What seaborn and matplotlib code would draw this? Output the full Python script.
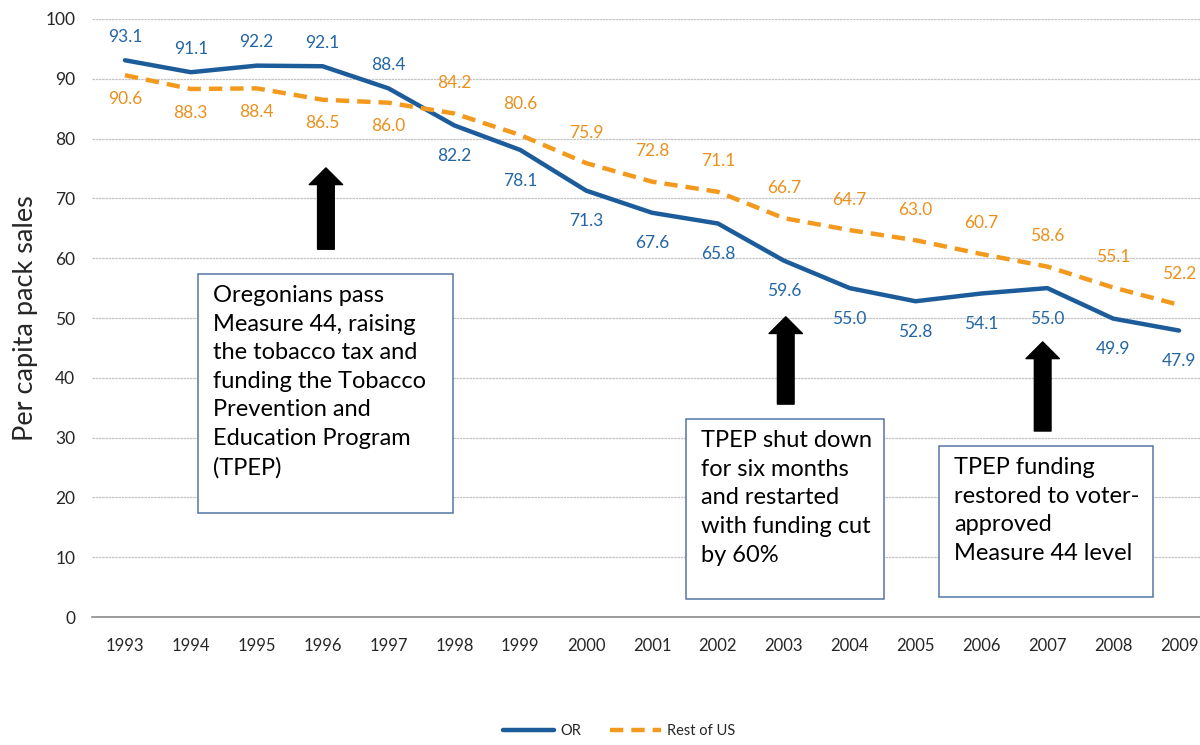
import matplotlib
matplotlib.use("Agg")
import matplotlib.pyplot as plt
from matplotlib.patches import Rectangle
import pandas as pd
import seaborn as sns

# data
years = list(range(1993, 2010))
oregon = [93.1, 91.1, 92.2, 92.1, 88.4, 82.2, 78.1, 71.3, 67.6, 65.8,
          59.6, 55.0, 52.8, 54.1, 55.0, 49.9, 47.9]
rest_us = [90.6, 88.3, 88.4, 86.5, 86.0, 84.2, 80.6, 75.9, 72.8, 71.1,
           66.7, 64.7, 63.0, 60.7, 58.6, 55.1, 52.2]
series_names = ["OR", "Rest of US"]

note_texts = [
    "Oregonians pass\nMeasure 44, raising\nthe tobacco tax and\nfunding the Tobacco\nPrevention and\nEducation Program\n(TPEP)",
    "TPEP shut down\nfor six months\nand restarted\nwith funding cut\nby 60%",
    "TPEP funding\nrestored to voter-\napproved\nMeasure 44 level",
]

sns.set_theme(style="white")
plt.rcParams["font.family"] = ["Lato", "DejaVu Sans"]

blue = "#1D5C9B"
blue_txt = "#2366A6"
orange = "#F39A1E"
orange_txt = "#EB901C"

df = pd.DataFrame({
    "year": years * 2,
    "sales": oregon + rest_us,
    "series": [series_names[0]] * len(years) + [series_names[1]] * len(years),
})

fig = plt.figure(figsize=(12, 7.45), dpi=100)
ax = fig.add_axes([0.0767, 0.1718, 0.9333, 0.8027])

sns.lineplot(data=df, x="year", y="sales", hue="series", style="series",
             palette={"OR": blue, "Rest of US": orange},
             dashes={"OR": "", "Rest of US": (3, 1.8)},
             linewidth=3.2, ax=ax)

handles, labels = ax.get_legend_handles_labels()
ax.get_legend().remove()

# data labels
for i, (y, o, r) in enumerate(zip(years, oregon, rest_us)):
    off = 17 if i < 5 else 22
    o_off = off if o > r else -off
    r_off = -off if o > r else off
    ax.annotate(f"{o:.1f}", (y, o), xytext=(0, o_off), textcoords="offset points",
                ha="center", va="center", fontsize=12.5, color=blue_txt)
    ax.annotate(f"{r:.1f}", (y, r), xytext=(0, r_off), textcoords="offset points",
                ha="center", va="center", fontsize=12.5, color=orange_txt)

# arrows
arrows = [(1996.05, 61.5, 75.1), (2003.03, 35.6, 50.2), (2006.93, 31.1, 46.0)]
for x, y0, y1 in arrows:
    ax.annotate("", xy=(x, y1), xytext=(x, y0),
                arrowprops=dict(arrowstyle="simple,head_width=24,head_length=12,tail_width=12",
                                mutation_scale=1, color="black", shrinkA=0, shrinkB=0))

# note boxes
boxes = [(1994.11, 17.4, 1997.98, 57.4), (2001.51, 3.0, 2004.52, 33.1),
         (2005.35, 3.3, 2008.6, 28.6)]
for (x0, y0, x1, y1), txt in zip(boxes, note_texts):
    ax.add_patch(Rectangle((x0, y0), x1 - x0, y1 - y0, facecolor="white",
                           edgecolor="#5575A5", linewidth=1.1, zorder=4))
    ax.annotate(txt, (x0, y1), xytext=(11, -8), textcoords="offset points",
                ha="left", va="top", fontsize=17, linespacing=1.45,
                color="black", zorder=5)

ax.set_xlim(1992.5, 2009.5)
ax.set_ylim(0, 100)
ax.set_yticks(range(0, 101, 10))
ax.set_xticks(years)
ax.set_xticks([y + 0.5 for y in range(1992, 2010)], minor=True)
ax.tick_params(axis="x", which="major", length=0, pad=15, labelsize=12)
ax.tick_params(axis="x", which="minor", length=6, width=1.1, color="#8C8C8C", direction="out")
ax.tick_params(axis="y", length=0, pad=12, labelsize=12.5)
ax.yaxis.grid(True, color="#C4C4C4", linewidth=0.9, linestyle=(0, (2, 0.6)))
ax.set_axisbelow(True)
for s in ["top", "right", "left"]:
    ax.spines[s].set_visible(False)
ax.spines["bottom"].set_color("#8C8C8C")
ax.spines["bottom"].set_linewidth(1.2)

ax.set_xlabel("")
ax.set_ylabel("Per capita pack sales", fontsize=19.5, labelpad=5)

fig.legend(handles, labels, loc="lower center", bbox_to_anchor=(0.516, -0.008),
           ncol=2, frameon=False, fontsize=10.5, handlelength=3.5,
           handletextpad=0.4, columnspacing=2.0)

fig.savefig("out.png", dpi=100)
